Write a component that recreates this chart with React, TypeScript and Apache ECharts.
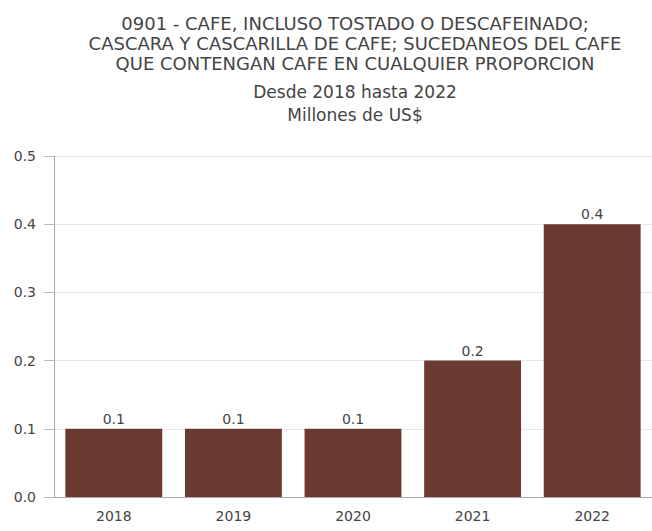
import React, { useEffect, useRef } from "react";
import * as echarts from "echarts";

const titleLines = [
  "0901 - CAFE, INCLUSO TOSTADO O DESCAFEINADO;",
  "CASCARA Y CASCARILLA DE CAFE; SUCEDANEOS DEL CAFE",
  "QUE CONTENGAN CAFE EN CUALQUIER PROPORCION",
];
const subtitle = "Desde 2018 hasta 2022";
const unitLabel = "Millones de US$";
const categories = ["2018", "2019", "2020", "2021", "2022"];
const values = [0.1, 0.1, 0.1, 0.2, 0.4];
const yTicks = { min: 0, max: 0.5, interval: 0.1 };

const FONT = "DejaVu Sans";
const TEXT = "#444";

export default function App() {
  const ref = useRef<HTMLDivElement>(null);
  useEffect(() => {
    document.body.style.margin = "0";
    const chart = echarts.init(ref.current!, null, { renderer: "svg" });
    const cx = 355;
    chart.setOption({
      animation: false,
      backgroundColor: "#fff",
      textStyle: { fontFamily: FONT },
      graphic: [
        ...titleLines.map((t, i) => ({
          type: "text",
          x: cx,
          y: 24 + i * 20,
          scaleX: 1.06,
          style: {
            text: t,
            fontFamily: FONT,
            fontSize: 17,
            fill: TEXT,
            textAlign: "center",
            textVerticalAlign: "middle",
          },
        })),
        {
          type: "text",
          x: cx,
          y: 92,
          style: { text: subtitle, fontFamily: FONT, fontSize: 17, fill: TEXT, textAlign: "center", textVerticalAlign: "middle" },
        },
        {
          type: "text",
          x: cx,
          y: 115,
          style: { text: unitLabel, fontFamily: FONT, fontSize: 17, fill: TEXT, textAlign: "center", textVerticalAlign: "middle" },
        },
      ],
      grid: { left: 54, top: 156, width: 600, height: 341 },
      xAxis: {
        type: "category",
        data: categories,
        axisLine: { lineStyle: { color: "#aaa" } },
        axisTick: { length: 5, alignWithLabel: true, lineStyle: { color: "#bbb" } },
        axisLabel: { color: TEXT, fontSize: 14, fontFamily: FONT, margin: 12 },
      },
      yAxis: {
        type: "value",
        min: yTicks.min,
        max: yTicks.max,
        interval: yTicks.interval,
        axisLine: { show: true, lineStyle: { color: "#aaa" } },
        axisTick: { show: true, length: 10, lineStyle: { color: "#bbb" } },
        axisLabel: {
          color: TEXT,
          fontSize: 14,
          fontFamily: FONT,
          margin: 18,
          formatter: (v: number) => v.toFixed(1),
        },
        splitLine: { lineStyle: { color: "#e8e8e8" } },
      },
      series: [
        {
          type: "bar",
          data: values,
          barCategoryGap: "19%",
          itemStyle: { color: "#6b3a30" },
          label: {
            show: true,
            position: "top",
            distance: 3,
            color: TEXT,
            fontSize: 14,
            fontFamily: FONT,
            formatter: (p: any) => p.value.toFixed(1),
          },
        },
      ],
    });
    return () => chart.dispose();
  }, []);
  return <div ref={ref} style={{ width: 652, height: 531 }} />;
}
